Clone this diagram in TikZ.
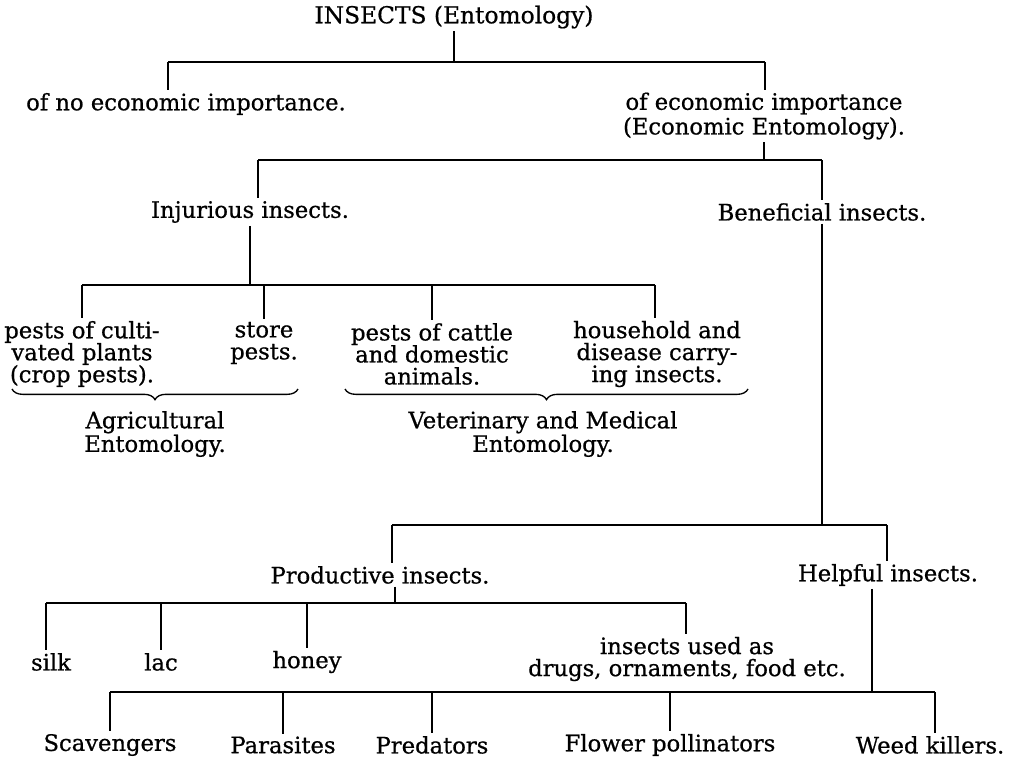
\documentclass[tikz,border=0pt]{standalone}
\usepackage{fontspec}
\setmainfont{DejaVu Serif}[FakeBold=0.7]
\usetikzlibrary{decorations.pathreplacing}

\tikzset{
  txt/.style={align=center, inner sep=2pt, font=\fontsize{17}{16.5}\selectfont},
  wire/.style={line width=0.9pt},
  grp/.style={line width=1pt, decorate, decoration={brace, mirror, amplitude=8pt}}
}

\begin{document}
\begin{tikzpicture}[x=0.75pt, y=-0.75pt]
        \useasboundingbox (0,0) rectangle (1025,760);
        % Top level
        \node[txt, font=\fontsize{17.5}{16.5}\selectfont] (ins) at (454,17) {INSECTS (Entomology)};
        \node[txt] (noimp) at (186,104) {of no economic importance.};
        \node[txt] (econ) at (764,116) {of economic importance\\[2pt](Economic Entomology).};
        \coordinate (b1l) at (168,62);
        \coordinate (b1r) at (765,62);
        \draw[wire] (ins.south) -- (ins.south |- b1l);
        \draw[wire] (b1l) -- (b1r);
        \draw[wire] (b1l) -- (b1l |- noimp.north);
        \draw[wire] (b1r) -- (b1r |- econ.north);

        % Injurious / beneficial
        \node[txt] (inj) at (250,212) {Injurious insects.};
        \node[txt] (ben) at (822,212) {Beneficial insects.};
        \coordinate (b2l) at (258,160);
        \coordinate (b2r) at (822,160);
        \draw[wire] (econ.south) -- (econ.south |- b2l);
        \draw[wire] (b2l) -- (b2r);
        \draw[wire] (b2l) -- (b2l |- inj.north);
        \draw[wire] (b2r) -- (ben.north);

        % Injurious insects
        \node[txt] (crop) at (82,354) {pests of culti-\\vated plants\\(crop pests).};
        \node[txt] (store) at (264,343) {store\\pests.};
        \node[txt] (cattle) at (432,354) {pests of cattle\\and domestic\\animals.};
        \node[txt] (house) at (657,354) {household and\\disease carry-\\ing insects.};
        \coordinate (b3l) at (82,285);
        \coordinate (b3r) at (655,285);
        \draw[wire] (inj.south) -- (inj.south |- b3l);
        \draw[wire] (b3l) -- (b3r);
        \draw[wire] (b3l) -- (b3l |- crop.north);
        \draw[wire] (store.north |- b3l) -- (store.north);
        \draw[wire] (cattle.north |- b3l) -- (cattle.north);
        \draw[wire] (b3r) -- (b3r |- house.north);

        % Braces
        \coordinate (g1a) at (12,389);
        \coordinate (g1b) at (298,389);
        \coordinate (g2a) at (345,389);
        \coordinate (g2b) at (748,389);
        \draw[grp] (g1a) -- (g1b);
        \draw[grp] (g2a) -- (g2b);
        \node[txt] (agri) at (155,434) {Agricultural\\Entomology.};
        \node[txt] (vet) at (543,434) {Veterinary and Medical\\Entomology.};

        % Beneficial insects
        \node[txt] (prod) at (380,575) {Productive insects.};
        \node[txt] (help) at (888,575) {Helpful insects.};
        \coordinate (b4l) at (392,525);
        \coordinate (b4r) at (887,525);
        \draw[wire] (ben.south) -- (ben.south |- b4l);
        \draw[wire] (b4l) -- (b4r);
        \draw[wire] (b4l) -- (b4l |- prod.north);
        \draw[wire] (b4r) -- (b4r |- help.north);

        % Productive insects
        \node[txt] (silk) at (51,662) {silk};
        \node[txt] (lac) at (161,662) {lac};
        \node[txt] (honey) at (307,662) {honey};
        \node[txt] (drugs) at (687,659) {insects used as\\drugs, ornaments, food etc.};
        \coordinate (b5l) at (46,603);
        \coordinate (b5r) at (686,603);
        \coordinate (p5) at (395,603);
        \draw[wire] (p5 |- prod.south) -- (p5);
        \draw[wire] (b5l) -- (b5r);
        \draw[wire] (b5l) -- (b5l |- silk.north);
        \draw[wire] (lac.north |- b5l) -- (lac.north);
        \draw[wire] (honey.north |- b5l) -- (honey.north);
        \draw[wire] (b5r) -- (b5r |- drugs.north);

        % Helpful insects
        \node[txt] (scav) at (110,745) {Scavengers};
        \node[txt] (para) at (283,745) {Parasites};
        \node[txt] (pred) at (432,745) {Predators};
        \node[txt] (flow) at (670,745) {Flower pollinators};
        \node[txt] (weed) at (930,745) {Weed killers.};
        \coordinate (b6l) at (110,692);
        \coordinate (b6r) at (935,692);
        \coordinate (h6) at (872,692);
        \draw[wire] (h6 |- help.south) -- (h6);
        \draw[wire] (b6l) -- (b6r);
        \draw[wire] (b6l) -- (scav.north);
        \draw[wire] (para.north |- b6l) -- (para.north);
        \draw[wire] (pred.north |- b6l) -- (pred.north);
        \draw[wire] (flow.north |- b6l) -- (flow.north);
        \draw[wire] (b6r) -- (b6r |- weed.north);
    \end{tikzpicture}
\end{document}
